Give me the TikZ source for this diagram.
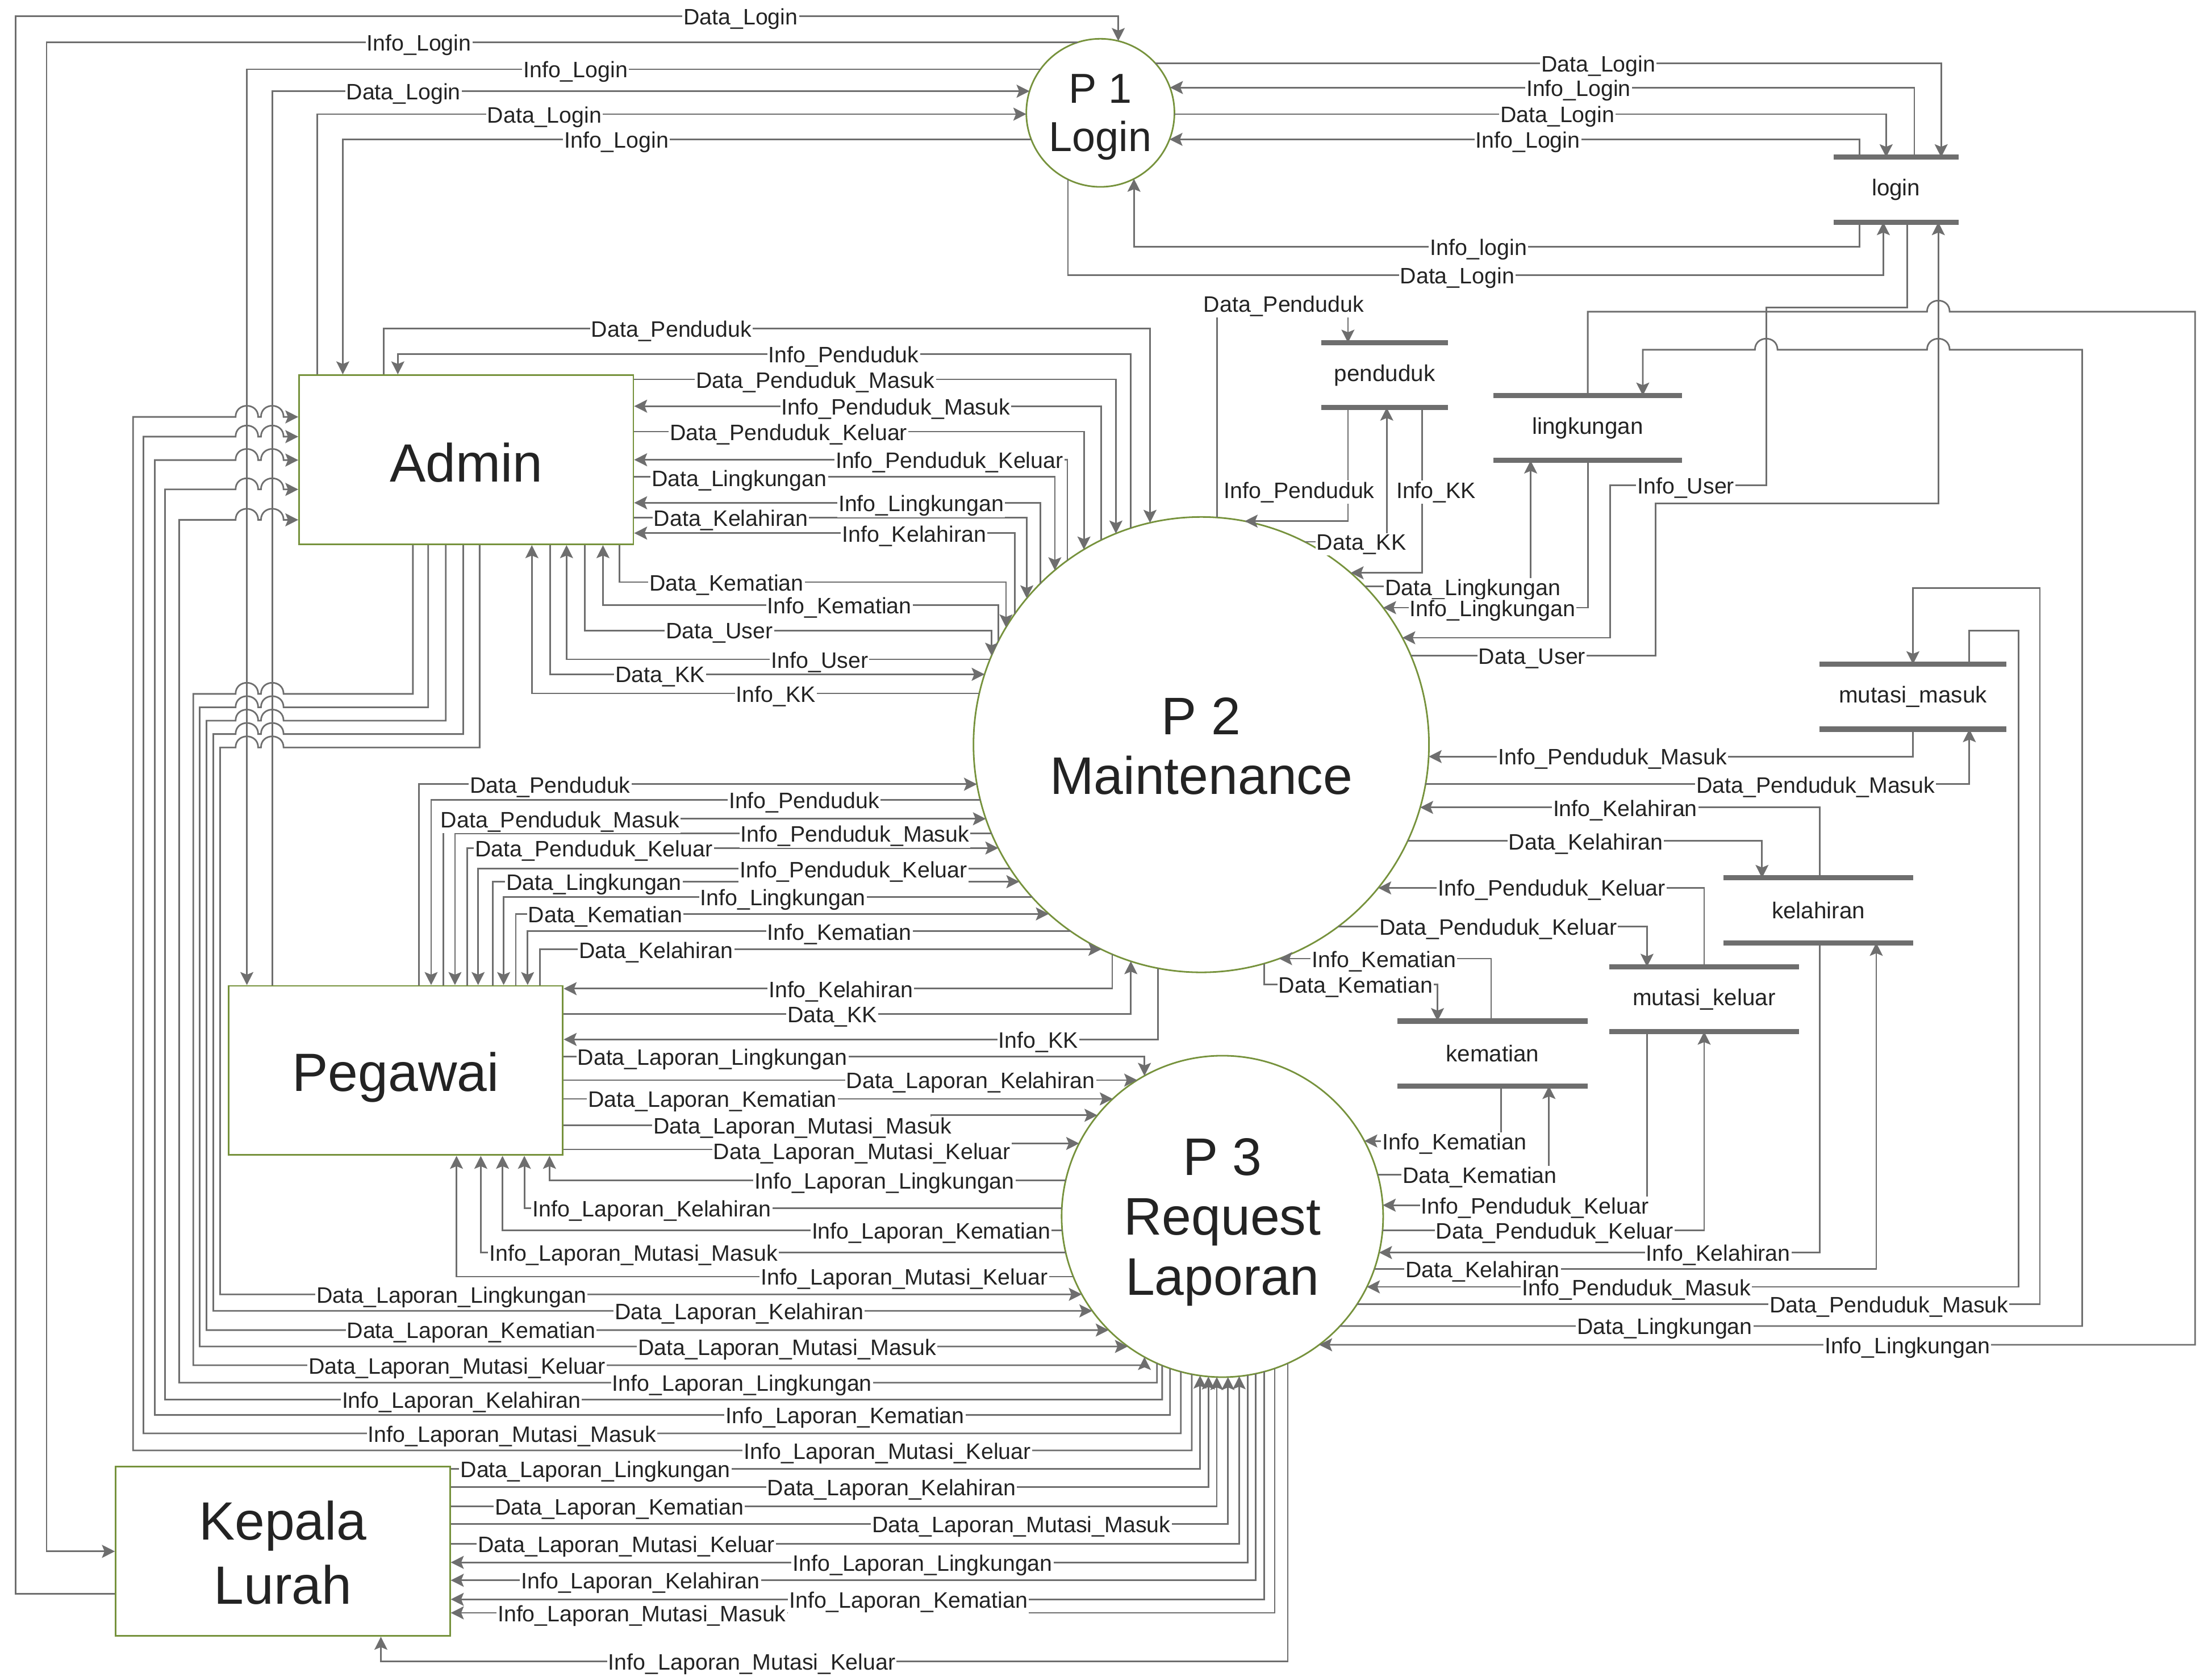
\documentclass[tikz,border=0pt]{standalone}
\usepackage{fontspec}
\setmainfont{Liberation Sans}
\usetikzlibrary{arrows.meta}

\definecolor{flowgray}{RGB}{110,110,110}
\definecolor{edgegreen}{RGB}{118,146,60}
\definecolor{textdark}{RGB}{35,35,35}

\tikzset{
  flow/.style={draw=flowgray, line width=0.8pt, -{Stealth[length=6.5pt,width=6.5pt,inset=1.3pt]}},
  lbl/.style={fill=white, inner sep=0.6pt, yshift=-1.4pt, text=textdark, font=\fontsize{11.2}{13}\selectfont},
  entity/.style={draw=edgegreen, line width=0.8pt, minimum width=5.886cm, minimum height=2.980cm, inner sep=0pt},
  proc/.style={circle, draw=edgegreen, line width=0.8pt, inner sep=0pt, outer sep=0pt},
  bigtext/.style={text=textdark, align=center, inner sep=0pt, font=\fontsize{26.5}{30}\selectfont},
  store/.style={inner sep=0pt, minimum height=1.13cm, text=textdark, font=\fontsize{11.5}{13}\selectfont},
  storebar/.style={draw=flowgray, line width=2.6pt}
}

\begin{document}
\begin{tikzpicture}[x=0.024834cm,y=-0.024834cm]
\useasboundingbox (0,0) rectangle (1568,1189);

% Processes
\node[proc, minimum size=2.608cm] (p1) at (780,80) {};
\node[proc, minimum size=8.021cm] (p2) at (851.5,528) {};
\node[proc, minimum size=5.662cm] (p3) at (866.5,862.5) {};
\node[bigtext, font=\fontsize{21}{24}\selectfont] (p1txt) at (780,83) {P 1\\Login};
\node[bigtext] (p2txt) at (851.5,529) {P 2\\Maintenance};
\node[bigtext] (p3txt) at (866.5,866.5) {P 3\\Request\\Laporan};

% External entities
\node[entity] (admin) at (330.5,326) {};
\node[entity] (pegawai) at (280.5,759) {};
\node[entity] (kepala) at (200.5,1100) {};
\node[bigtext, font=\fontsize{27}{32}\selectfont] (admintxt) at (330.5,328) {Admin};
\node[bigtext, font=\fontsize{27}{32}\selectfont] (pegawaitxt) at (280.5,764) {Pegawai};
\node[bigtext, font=\fontsize{27}{32}\selectfont] (kepalatxt) at (200.5,1101) {Kepala\\Lurah};

% Data stores
\node[store, minimum width=2.185cm] (dLogin) at (1344,134.5) {login};
\node[store, minimum width=2.210cm] (dPenduduk) at (981.5,266) {penduduk};
\node[store, minimum width=3.303cm] (dLingkungan) at (1125.5,303.5) {lingkungan};
\node[store, minimum width=3.278cm] (dMasuk) at (1356,494) {mutasi\_masuk};
\node[store, minimum width=3.328cm] (dKelahiran) at (1289,645.5) {kelahiran};
\node[store, minimum width=3.328cm] (dKeluar) at (1208,708.5) {mutasi\_keluar};
\node[store, minimum width=3.328cm] (dKematian) at (1058,747) {kematian};

%% ---------- P1 Login ----------
\draw[flow] (kepala.west |- 0,1130) -- (11,1130) -- (11,11.6) -| (p1.76);
\draw[flow] (p1.108) -| (33,1100) -- (kepala.west);
\draw[flow] (p1.144) -| (pegawai.north -| 175,0);
\draw[flow] (pegawai.north -| 193,0) |- (p1.163);
\draw[flow] (admin.north -| 225,0) |- (p1.181);
\draw[flow] (p1.201) -| (admin.north -| 243,0);
\draw[flow] (p1.42) -| (dLogin.north -| 1376,0);
\draw[flow] (dLogin.north -| 1357,0) |- (p1.20);
\draw[flow] (p1.359) -| (dLogin.north -| 1337,0);
\draw[flow] (dLogin.north -| 1318,0) |- (p1.339);
\draw[flow] (dLogin.south -| 1318,0) |- (p1.297 |- 0,175) -- (p1.297);
\draw[flow] (p1.244) |- (1335,195) -- (dLogin.south -| 1335,0);

%% ---------- P2 <-> stores ----------
\draw[flow] (p2.86) |- (955.5,215) -- (dPenduduk.north -| 955.5,0);
\draw[flow] (dPenduduk.south -| 955.5,0) |- (p2.79);
\draw[flow] (dPenduduk.south -| 1008,0) |- (p2.49);
\draw[flow] (p2.63) -| (dPenduduk.south -| 983,0);
\draw[flow] (p2.44) -| (dLingkungan.south -| 1085,0);
\draw[flow] (dLingkungan.south -| 1125.5,0) |- (p2.37);
\draw[flow] (dLogin.south -| 1352,0) |- (1252,218) -- (1252,344) -- (1141.5,344) |- (p2.28);
\draw[flow] (p2.23) -| (1173.5,357) -- (1374,357) -- (dLogin.south -| 1374,0);
\draw[flow] (dMasuk.south -| 1356,0) |- (p2.357);
\draw[flow] (p2.350) -| (dMasuk.south -| 1396,0);
\draw[flow] (dKelahiran.north -| 1290,0) |- (p2.344);
\draw[flow] (p2.335) -| (dKelahiran.north -| 1249,0);
\draw[flow] (dKeluar.north -| 1208,0) |- (p2.321);
\draw[flow] (p2.307) -| (dKeluar.north -| 1167.5,0);
\draw[flow] (dKematian.north -| 1057,0) |- (p2.290);
\draw[flow] (p2.286) |- (1019,698) -- (dKematian.north -| 1019,0);

%% ---------- P3 <-> stores ----------
\draw[flow] (dLingkungan.north -| 1125.5,0) |- (1366,221) .. controls (1366,210.5) and (1382,210.5) .. (1382,221) -- (1556,221) |- (p3.307);
\draw[flow] (p3.317) -| (1476,248) -- (1382,248) .. controls (1382,237.5) and (1366,237.5) .. (1366,248) -- (1260,248) .. controls (1260,237.5) and (1244,237.5) .. (1244,248) -| (dLingkungan.north -| 1164.5,0);
\draw[flow] (dMasuk.north -| 1396,0) |- (1431,447) |- (p3.334);
\draw[flow] (p3.327) -| (1446,417) -| (dMasuk.north -| 1356,0);
\draw[flow] (dKelahiran.south -| 1290,0) |- (p3.347);
\draw[flow] (p3.341) -| (dKelahiran.south -| 1330,0);
\draw[flow] (dKeluar.south -| 1167.5,0) |- (p3.4);
\draw[flow] (p3.355) -| (dKeluar.south -| 1208,0);
\draw[flow] (dKematian.south -| 1064,0) |- (p3.28);
\draw[flow] (p3.15) -| (dKematian.south -| 1098,0);

%% ---------- Admin <-> P2 ----------
\draw[flow] (admin.north -| 272,0) -- (272,233) -| (p2.103);
\draw[flow] (p2.108) |- (282,251) -- (admin.north -| 282,0);
\draw[flow] (admin.east |- 0,269) -| (p2.112);
\draw[flow] (p2.116) |- (admin.east |- 0,288);
\draw[flow] (admin.east |- 0,306) -| (p2.121);
\draw[flow] (p2.126) |- (admin.east |- 0,326);
\draw[flow] (admin.east |- 0,338) -| (p2.130);
\draw[flow] (p2.135) |- (admin.east |- 0,356.5);
\draw[flow] (admin.east |- 0,367) -| (p2.140);
\draw[flow] (p2.145) |- (admin.east |- 0,378);
\draw[flow] (admin.south -| 439,0) -- (439,412.7) -| (p2.149);
\draw[flow] (p2.153) |- (427.4,429) -- (admin.south -| 427.4,0);
\draw[flow] (admin.south -| 414.7,0) -- (414.7,447) -| (p2.157);
\draw[flow] (p2.158) -| (admin.south -| 401.6,0);
\draw[flow] (admin.south -| 390,0) |- (p2.162);
\draw[flow] (p2.167) -| (admin.south -| 377,0);

%% ---------- Pegawai <-> P2 ----------
\draw[flow] (pegawai.north -| 297,0) |- (p2.190);
\draw[flow] (p2.194) -| (pegawai.north -| 305.6,0);
\draw[flow] (pegawai.north -| 314.3,0) |- (p2.199);
\draw[flow] (p2.203) -| (pegawai.north -| 322.5,0);
\draw[flow] (pegawai.north -| 331.2,0) |- (p2.207);
\draw[flow] (p2.213) -| (pegawai.north -| 338.9,0);
\draw[flow] (pegawai.north -| 349.2,0) |- (p2.217);
\draw[flow] (p2.222) -| (pegawai.north -| 357,0);
\draw[flow] (pegawai.north -| 365.6,0) |- (p2.228);
\draw[flow] (p2.235) -| (pegawai.north -| 374,0);
\draw[flow] (pegawai.north -| 382.6,0) |- (p2.244);
\draw[flow] (p2.247) |- (pegawai.east |- 0,701);
\draw[flow] (pegawai.east |- 0,719) -| (p2.252);
\draw[flow] (p2.259) |- (pegawai.east |- 0,737);

%% ---------- Pegawai <-> P3 ----------
\draw[flow] (pegawai.east |- 0,749) -| (p3.119);
\draw[flow] (pegawai.east |- p3.122) -- (p3.122);
\draw[flow] (pegawai.east |- p3.133) -- (p3.133);
\draw[flow] (pegawai.east |- 0,798) -- (660,798) |- (p3.141);
\draw[flow] (pegawai.east |- 0,815) -- (706,815) |- (p3.153);
\draw[flow] (p3.167) -| (pegawai.south -| 389.5,0);
\draw[flow] (p3.177) -| (pegawai.south -| 371.7,0);
\draw[flow] (p3.185) -| (pegawai.south -| 356.2,0);
\draw[flow] (p3.193) -| (pegawai.south -| 340.8,0);
\draw[flow] (p3.202) -| (pegawai.south -| 323.6,0);

%% ---------- Admin <-> P3 ----------
\draw[flow] (admin.south -| 340,0) -- (340,530) -- (201,530) .. controls (201,519.5) and (185,519.5) .. (185,530) -- (183,530) .. controls (183,519.5) and (167,519.5) .. (167,530) -- (156,530) |- (p3.209);
\draw[flow] (admin.south -| 328.4,0) -- (328.4,520.5) -- (201,520.5) .. controls (201,510) and (185,510) .. (185,520.5) -- (183,520.5) .. controls (183,510) and (167,510) .. (167,520.5) -- (151.2,520.5) |- (p3.216);
\draw[flow] (admin.south -| 316,0) -- (316,511) -- (201,511) .. controls (201,500.5) and (185,500.5) .. (185,511) -- (183,511) .. controls (183,500.5) and (167,500.5) .. (167,511) -- (146.4,511) |- (p3.225);
\draw[flow] (admin.south -| 303.5,0) -- (303.5,501.5) -- (201,501.5) .. controls (201,491) and (185,491) .. (185,501.5) -- (183,501.5) .. controls (183,491) and (167,491) .. (167,501.5) -- (141.5,501.5) |- (p3.234);
\draw[flow] (admin.south -| 292.7,0) -- (292.7,492) -- (201,492) .. controls (201,481.5) and (185,481.5) .. (185,492) -- (183,492) .. controls (183,481.5) and (167,481.5) .. (167,492) -- (137,492) |- (p3.241 |- 0,968) -- (p3.241);
\draw[flow] (p3.246) |- (127,980.4) -- (127,368.6) -- (167,368.6) .. controls (167,358.1) and (183,358.1) .. (183,368.6) -- (185,368.6) .. controls (185,358.1) and (201,358.1) .. (201,368.6) -- (admin.west |- 0,368.6);
\draw[flow] (p3.248) |- (117,992.4) -- (117,347) -- (167,347) .. controls (167,336.5) and (183,336.5) .. (183,347) -- (185,347) .. controls (185,336.5) and (201,336.5) .. (201,347) -- (admin.west |- 0,347);
\draw[flow] (p3.251) |- (109.7,1003.3) -- (109.7,326.2) -- (167,326.2) .. controls (167,315.7) and (183,315.7) .. (183,326.2) -- (185,326.2) .. controls (185,315.7) and (201,315.7) .. (201,326.2) -- (admin.west |- 0,326.2);
\draw[flow] (p3.255) |- (101.7,1016.3) -- (101.7,309.6) -- (167,309.6) .. controls (167,299.1) and (183,299.1) .. (183,309.6) -- (185,309.6) .. controls (185,299.1) and (201,299.1) .. (201,309.6) -- (admin.west |- 0,309.6);
\draw[flow] (p3.259) |- (94.3,1028.4) -- (94.3,295.6) -- (167,295.6) .. controls (167,285.1) and (183,285.1) .. (183,295.6) -- (185,295.6) .. controls (185,285.1) and (201,285.1) .. (201,295.6) -- (admin.west |- 0,295.6);

%% ---------- Kepala Lurah <-> P3 ----------
\draw[flow] (kepala.east |- 0,1041.5) -| (p3.262);
\draw[flow] (kepala.east |- 0,1054.5) -| (p3.265);
\draw[flow] (kepala.east |- 0,1068) -| (p3.268);
\draw[flow] (kepala.east |- 0,1080.6) -| (p3.272);
\draw[flow] (kepala.east |- 0,1094.5) -| (p3.276);
\draw[flow] (p3.279) |- (kepala.east |- 0,1107.8);
\draw[flow] (p3.282) |- (kepala.east |- 0,1120.5);
\draw[flow] (p3.285) |- (kepala.east |- 0,1134);
\draw[flow] (p3.289) |- (kepala.east |- 0,1143.6);
\draw[flow] (p3.294) |- (270,1178) -- (kepala.south -| 270,0);

% store bars
\foreach \s in {dLogin,dPenduduk,dLingkungan,dMasuk,dKelahiran,dKeluar,dKematian}{
  \draw[storebar] (\s.north west) -- (\s.north east);
  \draw[storebar] (\s.south west) -- (\s.south east);
}

%% ---------- Text Nodes ----------
% P1
\node[lbl] (l1) at (525,11.6) {Data\_Login};
\node[lbl] (l2) at (297,30) {Info\_Login};
\node[lbl] (l3) at (408,49) {Info\_Login};
\node[lbl] (l4) at (286,64.5) {Data\_Login};
\node[lbl] (l5) at (386,81) {Data\_Login};
\node[lbl] (l6) at (437,98.8) {Info\_Login};
\node[lbl] (l7) at (1133,45) {Data\_Login};
\node[lbl] (l8) at (1119,62) {Info\_Login};
\node[lbl] (l9) at (1104,80.5) {Data\_Login};
\node[lbl] (l10) at (1083,98.8) {Info\_Login};
\node[lbl] (l11) at (1048,175) {Info\_login};
\node[lbl] (l12) at (1033,195) {Data\_Login};
% Admin - P2
\node[lbl] (l13) at (476,233) {Data\_Penduduk};
\node[lbl] (l14) at (598,251) {Info\_Penduduk};
\node[lbl] (l15) at (578,269) {Data\_Penduduk\_Masuk};
\node[lbl] (l16) at (635,288) {Info\_Penduduk\_Masuk};
\node[lbl] (l17) at (559,306) {Data\_Penduduk\_Keluar};
\node[lbl] (l18) at (673,326) {Info\_Penduduk\_Keluar};
\node[lbl] (l19) at (524,339) {Data\_Lingkungan};
\node[lbl] (l20) at (653,356.5) {Info\_Lingkungan};
\node[lbl] (l21) at (518,367) {Data\_Kelahiran};
\node[lbl] (l22) at (648,378) {Info\_Kelahiran};
\node[lbl] (l23) at (515,412.7) {Data\_Kematian};
\node[lbl] (l24) at (595,429) {Info\_Kematian};
\node[lbl] (l25) at (510,447) {Data\_User};
\node[lbl] (l26) at (581,467.5) {Info\_User};
\node[lbl] (l27) at (468,478) {Data\_KK};
\node[lbl] (l28) at (550,491.7) {Info\_KK};
% P2 - stores
\node[lbl] (l29) at (910,215) {Data\_Penduduk};
\node[lbl] (l30) at (921,347) {Info\_Penduduk};
\node[lbl] (l31) at (1018,347) {Info\_KK};
\node[lbl] (l32) at (965,384) {Data\_KK};
\node[lbl] (l33) at (1044,416) {Data\_Lingkungan};
\node[lbl] (l34) at (1058,431) {Info\_Lingkungan};
\node[lbl] (l35) at (1195,344) {Info\_User};
\node[lbl] (l36) at (1086,465) {Data\_User};
\node[lbl] (l37) at (1143,536) {Info\_Penduduk\_Masuk};
\node[lbl] (l38) at (1287,556) {Data\_Penduduk\_Masuk};
\node[lbl] (l39) at (1152,572.5) {Info\_Kelahiran};
\node[lbl] (l40) at (1124,596.5) {Data\_Kelahiran};
\node[lbl] (l41) at (1100,629) {Info\_Penduduk\_Keluar};
\node[lbl] (l42) at (1062,657) {Data\_Penduduk\_Keluar};
\node[lbl] (l43) at (981,679.8) {Info\_Kematian};
\node[lbl] (l44) at (961,698) {Data\_Kematian};
% P3 - stores
\node[lbl] (l45) at (1031,809) {Info\_Kematian};
\node[lbl] (l46) at (1049,833) {Data\_Kematian};
\node[lbl] (l47) at (1088,854.5) {Info\_Penduduk\_Keluar};
\node[lbl] (l48) at (1102,872.4) {Data\_Penduduk\_Keluar};
\node[lbl] (l49) at (1218,888) {Info\_Kelahiran};
\node[lbl] (l50) at (1051,899.6) {Data\_Kelahiran};
\node[lbl] (l51) at (1160,912.5) {Info\_Penduduk\_Masuk};
\node[lbl] (l52) at (1339,924.6) {Data\_Penduduk\_Masuk};
\node[lbl] (l53) at (1180,940) {Data\_Lingkungan};
\node[lbl] (l54) at (1352,953.5) {Info\_Lingkungan};
% Pegawai - P2
\node[lbl] (l55) at (390,556) {Data\_Penduduk};
\node[lbl] (l56) at (570,567) {Info\_Penduduk};
\node[lbl] (l57) at (397,580.6) {Data\_Penduduk\_Masuk};
\node[lbl] (l58) at (606,591) {Info\_Penduduk\_Masuk};
\node[lbl] (l59) at (421,601.3) {Data\_Penduduk\_Keluar};
\node[lbl] (l60) at (605,616) {Info\_Penduduk\_Keluar};
\node[lbl] (l61) at (421,625.2) {Data\_Lingkungan};
\node[lbl] (l62) at (555,636) {Info\_Lingkungan};
\node[lbl] (l63) at (429,648) {Data\_Kematian};
\node[lbl] (l64) at (595,660.3) {Info\_Kematian};
\node[lbl] (l65) at (465,673.2) {Data\_Kelahiran};
\node[lbl] (l66) at (596,701) {Info\_Kelahiran};
\node[lbl] (l67) at (590,719) {Data\_KK};
\node[lbl] (l68) at (736,737) {Info\_KK};
% Pegawai - P3
\node[lbl] (l69) at (505,749) {Data\_Laporan\_Lingkungan};
\node[lbl] (l70) at (688,765.8) {Data\_Laporan\_Kelahiran};
\node[lbl] (l71) at (505,779.1) {Data\_Laporan\_Kematian};
\node[lbl] (l72) at (569,798) {Data\_Laporan\_Mutasi\_Masuk};
\node[lbl] (l73) at (611,816) {Data\_Laporan\_Mutasi\_Keluar};
\node[lbl] (l74) at (627,837) {Info\_Laporan\_Lingkungan};
\node[lbl] (l75) at (462,856.5) {Info\_Laporan\_Kelahiran};
\node[lbl] (l76) at (660,872.4) {Info\_Laporan\_Kematian};
\node[lbl] (l77) at (449,888) {Info\_Laporan\_Mutasi\_Masuk};
\node[lbl] (l78) at (641,905) {Info\_Laporan\_Mutasi\_Keluar};
% Admin - P3
\node[lbl] (l79) at (320,917.8) {Data\_Laporan\_Lingkungan};
\node[lbl] (l80) at (524,929.5) {Data\_Laporan\_Kelahiran};
\node[lbl] (l81) at (334,943) {Data\_Laporan\_Kematian};
\node[lbl] (l82) at (558,954.7) {Data\_Laporan\_Mutasi\_Masuk};
\node[lbl] (l83) at (324,968) {Data\_Laporan\_Mutasi\_Keluar};
\node[lbl] (l84) at (526,980.4) {Info\_Laporan\_Lingkungan};
\node[lbl] (l85) at (327,992.4) {Info\_Laporan\_Kelahiran};
\node[lbl] (l86) at (599,1003.3) {Info\_Laporan\_Kematian};
\node[lbl] (l87) at (363,1016.3) {Info\_Laporan\_Mutasi\_Masuk};
\node[lbl] (l88) at (629,1028.4) {Info\_Laporan\_Mutasi\_Keluar};
% Kepala Lurah - P3
\node[lbl] (l89) at (422,1041.5) {Data\_Laporan\_Lingkungan};
\node[lbl] (l90) at (632,1054.5) {Data\_Laporan\_Kelahiran};
\node[lbl] (l91) at (439,1068) {Data\_Laporan\_Kematian};
\node[lbl] (l92) at (724,1080.6) {Data\_Laporan\_Mutasi\_Masuk};
\node[lbl] (l93) at (444,1094.5) {Data\_Laporan\_Mutasi\_Keluar};
\node[lbl] (l94) at (654,1107.8) {Info\_Laporan\_Lingkungan};
\node[lbl] (l95) at (454,1120.5) {Info\_Laporan\_Kelahiran};
\node[lbl] (l96) at (644,1134) {Info\_Laporan\_Kematian};
\node[lbl] (l97) at (455,1143.6) {Info\_Laporan\_Mutasi\_Masuk};
\node[lbl] (l98) at (533,1178) {Info\_Laporan\_Mutasi\_Keluar};
\end{tikzpicture}
\end{document}
